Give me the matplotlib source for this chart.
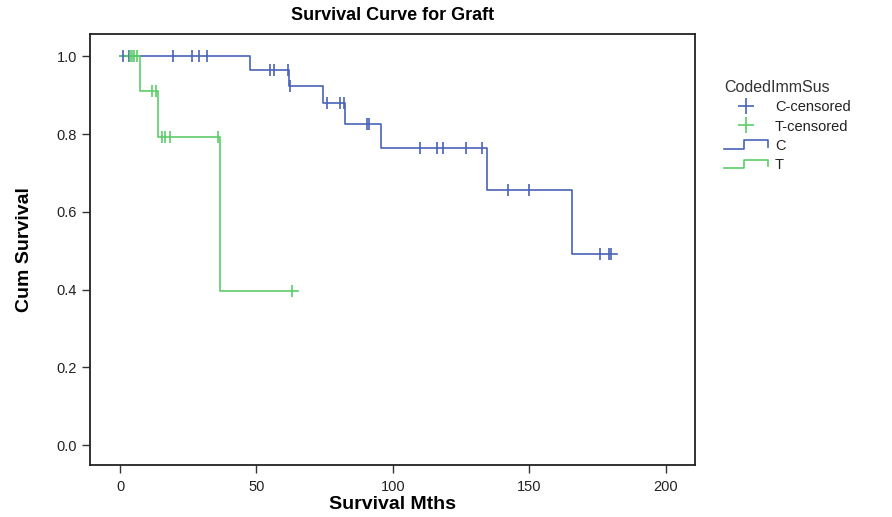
import matplotlib
matplotlib.use("Agg")
import matplotlib.pyplot as plt
from matplotlib.lines import Line2D
from matplotlib.legend_handler import HandlerBase

plt.rcParams["font.family"] = ["Liberation Sans", "DejaVu Sans"]

# ---- data ----
c_times = [0, 47.5, 62, 74.5, 82.5, 95.5, 134.5, 165.5, 182]
c_surv = [1.0, 0.966, 0.923, 0.880, 0.827, 0.764, 0.656, 0.493, 0.493]
c_cens_t = [1.2, 3.4, 19.5, 26.2, 29.0, 32.0, 55.0, 56.5, 61.5, 62.3,
            75.7, 80.6, 82.0, 90.4, 91.2, 109.9, 116.2, 118.2, 126.7, 132.7,
            142.0, 149.9, 176.0, 179.3, 180.0]
c_cens_s = [1.0, 1.0, 1.0, 1.0, 1.0, 1.0, 0.966, 0.966, 0.966, 0.923,
            0.880, 0.880, 0.880, 0.827, 0.827, 0.764, 0.764, 0.764, 0.764, 0.764,
            0.656, 0.656, 0.493, 0.493, 0.493]

t_times = [0, 7.3, 13.8, 36.6, 65.3]
t_surv = [1.0, 0.910, 0.794, 0.397, 0.397]
t_cens_t = [3.6, 4.4, 5.2, 6.1, 11.6, 13.2, 15.3, 16.5, 18.3, 36.0, 63.1]
t_cens_s = [1.0, 1.0, 1.0, 1.0, 0.910, 0.910, 0.794, 0.794, 0.794, 0.794, 0.397]

x_ticks = [0, 50, 100, 150, 200]
y_ticks = [0.0, 0.2, 0.4, 0.6, 0.8, 1.0]
legend_labels = ["C-censored", "T-censored", "C", "T"]

blue = "#4a62b8"
green = "#5ccd68"

fig = plt.figure(figsize=(8.92, 5.17), dpi=100)
ax = fig.add_axes([0.1009, 0.1006, 0.678, 0.833])

ax.step(c_times, c_surv, where="post", color=blue, lw=1.2)
ax.step(t_times, t_surv, where="post", color=green, lw=1.2)
ax.plot(c_cens_t, c_cens_s, ls="none", marker="|", ms=8, mew=1.2, color=blue)
ax.plot(t_cens_t, t_cens_s, ls="none", marker="|", ms=8, mew=1.2, color=green)

ax.set_xlim(-11, 210.6)
ax.set_ylim(-0.051, 1.057)
ax.set_xticks(x_ticks)
ax.set_yticks(y_ticks)
ax.set_yticklabels([f"{v:.1f}" for v in y_ticks])
ax.tick_params(axis="both", direction="out", length=6, width=1, color="#333333",
               labelsize=10.5, labelcolor="#222222")
ax.tick_params(axis="x", pad=5)
for s in ax.spines.values():
    s.set_linewidth(1.3)
    s.set_color("#222222")

ax.set_title("Survival Curve for Graft", fontsize=13, fontweight="bold", pad=10)
ax.set_xlabel("Survival Mths", fontsize=14, fontweight="bold", labelpad=1)
ax.set_ylabel("Cum Survival", fontsize=14, fontweight="bold",
              family=["Liberation Sans Narrow", "Liberation Sans", "DejaVu Sans"],
              labelpad=17)


class StepHandler(HandlerBase):
    def __init__(self, color):
        super().__init__()
        self.color = color

    def create_artists(self, legend, orig_handle, xdescent, ydescent, width, height, fontsize, trans):
        x0, x1 = -xdescent, -xdescent + width
        y0, y1 = -ydescent, -ydescent + height
        xs = [x0, x0 + 0.45 * width, x0 + 0.45 * width, x1, x1]
        ys = [y0 + 0.1 * height, y0 + 0.1 * height, y1 - 0.1 * height, y1 - 0.1 * height, y0 + 0.3 * height]
        ln = Line2D(xs, ys, color=self.color, lw=1.2, transform=trans)
        return [ln]


h_cc = Line2D([], [], ls="none", marker="+", ms=11, mew=1.2, color=blue)
h_tc = Line2D([], [], ls="none", marker="+", ms=11, mew=1.2, color=green)
h_c = Line2D([], [], color=blue)
h_t = Line2D([], [], color=green)

leg = fig.legend([h_cc, h_tc, h_c, h_t], legend_labels, loc="upper left",
                 bbox_to_anchor=(0.797, 0.87), frameon=False, title="CodedImmSus",
                 fontsize=10.5, title_fontsize=11.5, handlelength=3.0, handletextpad=0.5,
                 labelspacing=0.35, alignment="left",
                 handler_map={h_c: StepHandler(blue), h_t: StepHandler(green)})
for t in leg.get_texts():
    t.set_color("#222222")
leg.get_title().set_color("#333333")

fig.savefig("out.png", dpi=100)
